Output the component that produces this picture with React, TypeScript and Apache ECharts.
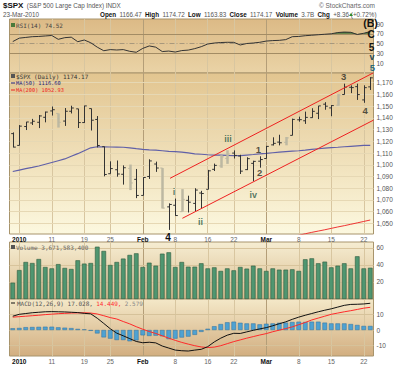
import React, { useEffect, useRef } from 'react';
import * as echarts from 'echarts';

// ---- data ----
const dates = [
  '2009-12-31',
  '2010-01-04','2010-01-05','2010-01-06','2010-01-07','2010-01-08',
  '2010-01-11','2010-01-12','2010-01-13','2010-01-14','2010-01-15',
  '2010-01-19','2010-01-20','2010-01-21','2010-01-22',
  '2010-01-25','2010-01-26','2010-01-27','2010-01-28','2010-01-29',
  '2010-02-01','2010-02-02','2010-02-03','2010-02-04','2010-02-05',
  '2010-02-08','2010-02-09','2010-02-10','2010-02-11','2010-02-12',
  '2010-02-16','2010-02-17','2010-02-18','2010-02-19',
  '2010-02-22','2010-02-23','2010-02-24','2010-02-25','2010-02-26',
  '2010-03-01','2010-03-02','2010-03-03','2010-03-04','2010-03-05',
  '2010-03-08','2010-03-09','2010-03-10','2010-03-11','2010-03-12',
  '2010-03-15','2010-03-16','2010-03-17','2010-03-18','2010-03-19',
  '2010-03-22','2010-03-23',
];
const openP = [1126.6,1116.56,1132.66,1135.71,1136.27,1140.52,1145.96,1143.81,1137.31,1145.68,1147.72,1136.03,1147.95,1138.68,1115.49,1092.4,1095.8,1091.94,1096.93,1087.61,1073.89,1090.05,1100.67,1097.25,1064.12,1065.51,1060.06,1069.68,1067.1,1075.95,1079.13,1096.14,1099.03,1105.49,1110.0,1107.49,1095.89,1101.24,1103.1,1105.36,1117.01,1119.36,1119.12,1125.12,1138.4,1137.56,1140.22,1143.96,1151.71,1148.53,1150.83,1159.94,1166.13,1166.68,1155.35,1166.47];
const highP = [1127.64,1133.87,1136.63,1139.19,1142.46,1145.39,1149.74,1143.81,1148.4,1150.41,1147.77,1150.45,1147.95,1141.58,1115.49,1102.97,1103.69,1099.51,1100.22,1096.45,1089.38,1104.73,1102.72,1097.25,1067.13,1071.2,1079.28,1073.67,1080.04,1077.81,1095.67,1101.03,1108.24,1112.42,1112.29,1108.58,1106.42,1103.5,1107.24,1116.11,1123.46,1125.64,1123.73,1139.38,1141.05,1145.37,1148.26,1150.24,1153.41,1150.98,1160.28,1169.2,1167.77,1169.2,1167.82,1174.72];
const lowP = [1114.81,1116.56,1129.66,1133.95,1131.32,1136.22,1142.02,1131.77,1133.18,1143.8,1131.39,1135.77,1129.25,1114.84,1090.18,1092.4,1089.86,1083.11,1078.46,1071.59,1073.89,1087.96,1093.97,1062.78,1044.5,1056.51,1060.06,1059.34,1060.59,1062.97,1079.13,1094.72,1097.48,1100.8,1105.38,1092.18,1095.5,1086.02,1097.56,1105.36,1116.51,1116.58,1116.66,1125.12,1136.77,1134.9,1140.09,1138.99,1146.97,1141.45,1150.35,1159.94,1161.16,1155.33,1152.88,1163.83];
const closeP = [1115.1,1132.99,1136.52,1137.14,1141.69,1144.98,1146.98,1136.22,1145.68,1148.46,1136.03,1150.23,1138.04,1116.48,1091.76,1096.78,1092.17,1097.5,1084.53,1073.87,1089.19,1103.32,1097.28,1063.11,1066.19,1056.74,1070.52,1068.13,1078.47,1075.51,1094.87,1099.51,1106.75,1109.17,1108.01,1094.6,1105.24,1102.94,1104.49,1115.71,1118.31,1118.79,1122.97,1138.7,1138.5,1140.45,1145.61,1150.24,1149.99,1150.51,1159.46,1166.21,1165.83,1159.9,1165.81,1174.17];
const lightBars = [7, 18, 23, 26, 32, 33, 42, 50];
const ma50 = [1094.3,1095.5,1096.7,1097.8,1099,1100.5,1102,1103.5,1105,1107.3,1109.5,1112,1114.5,1115.4,1115.3,1115.2,1115.1,1115,1114.5,1113.8,1113.2,1112.8,1112.5,1112,1111.5,1111.2,1110.8,1110.2,1109.4,1109,1108.6,1108.3,1108.2,1108,1107.9,1107.8,1108.3,1108.8,1109.4,1109.8,1110.3,1110.8,1111.2,1111.6,1112,1112.5,1113.1,1113.7,1114.3,1114.7,1115,1115.4,1115.8,1116.2,1116.5,1116.6];
const ma200 = [null,null,null,null,null,null,null,null,null,null,null,null,null,null,null,null,null,null,null,null,null,null,null,null,null,null,null,null,null,null,null,null,null,null,null,null,null,null,null,null,null,null,null,1038.6,1039.9,1041.2,1042.4,1043.5,1044.6,1045.8,1047,1048.1,1049.3,1050.5,1051.7,1052.93];
const volume = [19.2,34,43.5,42.3,47,37.6,36,41,36.5,35.3,45.5,41.6,42.3,61.5,56.5,40,43.5,47.5,51.8,53.7,37.6,42.7,39.2,53.3,54.9,37.6,43.5,38,38,42,36,37.2,33,36,33.7,37.6,35.7,39.2,36,33,36,34.5,34.5,34.9,33,46.7,47.8,42,43.9,37.2,39.2,42,36,50.2,36,36.7];
const rsi = [54,61,62.5,64,64.5,65.5,66.5,58.6,62,63,53.7,57.2,51.6,42.5,35.2,37.5,36.7,37.5,34,32,40,45,42.5,33.5,34.5,32.5,35.5,36.5,39.5,43.5,49,51,52,52.5,52.4,47,50,51,52.5,55,56,56.5,58,64,64.5,66,67,68,69,70,72.5,73.5,73,68.5,71,74.52];
const macd = [8.8,10,10.5,11,11.3,11.6,11.7,11.6,11.5,11.3,11.1,10.6,10.3,7.5,4.2,0.8,-2,-3.7,-5.5,-7.3,-8.1,-7.8,-8.2,-10.2,-11.5,-12.8,-13.2,-13.4,-12.8,-12.3,-10.6,-7.6,-5.2,-3.3,-2.1,-2.2,-1.2,-0.2,0.7,1.5,2.7,4,5.2,6.8,8.2,9.4,10.5,11.6,12.6,13.5,14.6,15.7,16.3,16.4,16.6,17.028];
const signal = [8.2,8.5,8.8,9.1,9.4,9.8,10.1,10.4,10.6,10.8,10.9,11,10.8,10.2,9.1,7.9,7,5.4,3.9,2.1,0.5,-1,-2.2,-3.7,-5.2,-6.6,-7.9,-9,-10,-10.8,-11.2,-10.9,-10,-8.7,-7.4,-6.3,-5.2,-4.2,-3.2,-2.3,-1.1,-0.1,0.9,2,3.4,4.8,6.4,7.6,8.8,10,10.8,11.6,12.3,13.1,13.9,14.449];
const hist = [1.1,1.3,1.8,1.9,2,2.1,2.1,1.7,1.5,1.2,0.7,0.4,-0.5,-2.2,-4.7,-5.5,-6.4,-6.4,-7.2,-6.6,-3.4,-3.8,-3.6,-4,-5.8,-5.5,-4.8,-4.2,-3.1,-1.2,0.8,2.4,3.8,4.9,5.3,4.6,4.2,4.2,3.6,4,4.2,4.6,4.7,5.1,5.3,5.1,5.3,5.3,4.7,4.2,4.2,4.2,3.8,3.2,2.6,2.579];

const tickIdx = [1, 6, 11, 15, 20, 25, 30, 34, 39, 44, 49, 54];
const tickLabels = ['2010', '11', '19', '25', 'Feb', '8', '16', '22', 'Mar', '8', '15', '22'];
const boldTicks = ['2010', 'Feb', 'Mar'];
const monthStarts = [20, 39];
const priceTicks = [1050,1060,1070,1080,1090,1100,1110,1120,1130,1140,1150,1160,1170];
const rsiTicks = [10, 30, 50, 70, 90];
const rsiOverbought = 70;
const volTicks = [20, 40, 60];
const macdTicks = [-10, 0, 10];
const channelUpper = [[24.2, 1088.5], [55.5, 1178.5]];
const channelLower = [[26.1, 1054.4], [55.5, 1138.1]];
const waveLabels = [
  { t: 'i', i: 24.8, p: 1077.1, roman: true },
  { t: 'ii', i: 28.9, p: 1051.5, roman: true },
  { t: 'iii', i: 33.1, p: 1122, roman: true },
  { t: 'iv', i: 37, p: 1074.3, roman: true },
  { t: '1', i: 37.8, p: 1113.2, roman: false },
  { t: '2', i: 38, p: 1093.3, roman: false },
  { t: '3', i: 50.9, p: 1175.1, roman: false },
  { t: '4', i: 54.2, p: 1146.1, roman: false },
];

const SANS = '"Liberation Sans", Arial, sans-serif';
const MONO = '"DejaVu Sans Mono", monospace';

function grad(a: string, b: string) {
  return new echarts.graphic.LinearGradient(0, 0, 0, 1, [
    { offset: 0, color: a },
    { offset: 1, color: b },
  ]);
}

function vLines() {
  return tickIdx.map((i) => ({
    xAxis: i,
    lineStyle: { color: monthStarts.includes(i) ? '#b49e78' : '#d8c6a0', width: 1, type: 'solid' },
  }));
}
function hLines(vals: number[], color: string) {
  return vals.map((v) => ({ yAxis: v, lineStyle: { color, width: 1, type: 'solid' } }));
}
function mark(data: any[]) {
  return {
    silent: true,
    symbol: ['none', 'none'],
    label: { show: false },
    animation: false,
    z: 1,
    data,
  };
}

const L = 9.5;
const W = 364;

export default function App() {
  const ref = useRef<HTMLDivElement>(null);
  useEffect(() => {
    if (!ref.current) return;
    const chart = echarts.init(ref.current, undefined, { renderer: 'svg' });
    const xIdx = dates.map((_, i) => i);

    const xAxisBase = (gi: number, showLabels: boolean) => ({
      type: 'value',
      gridIndex: gi,
      min: -0.5,
      max: dates.length - 0.5,
      axisLine: { show: false },
      axisTick: { show: false },
      splitLine: { show: false },
      axisLabel: {
        show: showLabels,
        customValues: tickIdx,
        margin: 2,
        fontSize: 6,
        fontFamily: SANS,
        formatter: (v: number) => {
          const k = tickIdx.indexOf(Math.round(v));
          if (k < 0) return '';
          const s = tickLabels[k];
          return boldTicks.includes(s) ? `{b|${s}}` : `{n|${s}}`;
        },
        rich: {
          b: { fontWeight: 'bold', color: '#111', fontSize: 6.5, fontFamily: SANS },
          n: { color: '#666', fontSize: 6.5, fontFamily: SANS },
        },
      },
    });
    const yAxisBase = (gi: number, min: number, max: number, ticks: number[]) => ({
      type: 'value',
      gridIndex: gi,
      position: 'right',
      min,
      max,
      axisLine: { show: false },
      axisTick: { show: false },
      splitLine: { show: false },
      axisLabel: { customValues: ticks, margin: 3, fontSize: 6.5, color: '#555', fontFamily: SANS },
    });

    const gridBase = { show: true, borderColor: '#a8946c', borderWidth: 1, containLabel: false, outerBoundsMode: 'none' };

    const option: any = {
      animation: false,
      backgroundColor: '#ffffff',
      grid: [
        { ...gridBase, left: L, width: W, top: 19, height: 54, backgroundColor: grad('#dcba86', '#ead3a6') },
        { ...gridBase, left: L, width: W, top: 73, height: 161, backgroundColor: grad('#e2c590', '#fcf8df') },
        { ...gridBase, left: L, width: W, top: 242, height: 57, backgroundColor: grad('#f6edd2', '#d9bc8e') },
        { ...gridBase, left: L, width: W, top: 299, height: 57, backgroundColor: grad('#f4e8c8', '#d2ae80') },
      ],
      xAxis: [xAxisBase(0, false), xAxisBase(1, true), xAxisBase(2, false), xAxisBase(3, true)],
      yAxis: [
        yAxisBase(0, -10.5, 100.3, rsiTicks),
        yAxisBase(1, 1041, 1178.3, priceTicks),
        yAxisBase(2, 0, 67, volTicks),
        yAxisBase(3, -16.56, 19.75, macdTicks),
      ],
      series: [
        // RSI: overbought fill between 70 and the RSI line
        {
          type: 'line', xAxisIndex: 0, yAxisIndex: 0, z: 3,
          data: rsi.map((v, i) => [i, Math.max(v, rsiOverbought)]), symbol: 'none',
          lineStyle: { opacity: 0 },
          areaStyle: { color: '#3c7236', opacity: 1, origin: rsiOverbought },
          markLine: mark([
            ...vLines(),
            { yAxis: 70, lineStyle: { color: '#a38c64', width: 1, type: 'solid' } },
            { yAxis: 30, lineStyle: { color: '#a38c64', width: 1, type: 'solid' } },
            { yAxis: 50, lineStyle: { color: '#a8987c', width: 1, type: [5, 2, 1, 2] } },
          ]),
        },
        {
          type: 'line', xAxisIndex: 0, yAxisIndex: 0, z: 4,
          data: rsi.map((v, i) => [i, v]), symbol: 'none',
          lineStyle: { color: '#333', width: 1 },
        },
        // Price
        {
          type: 'line', xAxisIndex: 1, yAxisIndex: 1, z: 3,
          data: ma50.map((v, i) => [i, v]), symbol: 'none',
          lineStyle: { color: '#6060a8', width: 1.2 },
          markLine: mark([...vLines(), ...hLines(priceTicks, '#e6d8b4')]),
        },
        {
          type: 'line', xAxisIndex: 1, yAxisIndex: 1, z: 3,
          data: ma200.map((v, i) => [i, v]), symbol: 'none', clip: true,
          lineStyle: { color: '#ee3333', width: 1 },
        },
        {
          type: 'custom', xAxisIndex: 1, yAxisIndex: 1, z: 4, clip: true,
          data: xIdx.map((i) => [i, openP[i], closeP[i], lowP[i], highP[i], lightBars.includes(i) ? 1 : 0]),
          encode: { x: 0, y: [1, 2, 3, 4] },
          renderItem: (params: any, api: any) => {
            const i = api.value(0);
            const top = api.coord([i, api.value(4)]);
            const bot = api.coord([i, api.value(3)]);
            const po = api.coord([i, api.value(1)]);
            const pc = api.coord([i, api.value(2)]);
            const light = api.value(5) === 1;
            const x = Math.round(top[0]) + 0.5;
            const col = light ? '#bdb8a2' : '#333333';
            return {
              type: 'group',
              children: [
                { type: 'line', shape: { x1: x, y1: top[1], x2: x, y2: bot[1] }, style: { stroke: col, lineWidth: light ? 2.5 : 1 } },
                { type: 'line', shape: { x1: x - 2.3, y1: po[1], x2: x, y2: po[1] }, style: { stroke: col, lineWidth: 1 } },
                { type: 'line', shape: { x1: x, y1: pc[1], x2: x + 2.3, y2: pc[1] }, style: { stroke: col, lineWidth: 1 } },
              ],
            };
          },
        },
        {
          type: 'line', xAxisIndex: 1, yAxisIndex: 1, z: 5, clip: true,
          data: channelUpper, symbol: 'none',
          lineStyle: { color: '#ee2020', width: 1 },
        },
        {
          type: 'line', xAxisIndex: 1, yAxisIndex: 1, z: 5, clip: true,
          data: channelLower, symbol: 'none',
          lineStyle: { color: '#ee2020', width: 1 },
        },
        {
          type: 'scatter', xAxisIndex: 1, yAxisIndex: 1, z: 6, clip: false,
          symbolSize: 0,
          data: waveLabels.map((w) => ({
            value: [w.i, w.p],
            label: {
              show: true, position: 'inside', formatter: w.t,
              fontSize: w.roman ? 9 : 9.5, fontWeight: 'bold', fontFamily: SANS,
              color: w.roman ? '#2f5a48' : '#2a2a22',
            },
          })),
        },
        // Volume
        {
          type: 'bar', xAxisIndex: 2, yAxisIndex: 2, z: 3,
          data: volume.map((v, i) => [i, v]), barWidth: 4.6,
          itemStyle: { color: '#4f9670', borderColor: '#2d5a3e', borderWidth: 0.6 },
          markLine: mark([...vLines(), ...hLines(volTicks, '#d8c49c')]),
        },
        // MACD
        {
          type: 'bar', xAxisIndex: 3, yAxisIndex: 3, z: 3,
          data: hist.map((v, i) => [i, v]), barWidth: 4.6,
          itemStyle: { color: '#4ea2d2', borderColor: '#2e6e9e', borderWidth: 0.5 },
          markLine: mark([...vLines(), ...hLines(macdTicks, '#d6c29a')]),
        },
        {
          type: 'line', xAxisIndex: 3, yAxisIndex: 3, z: 4,
          data: signal.map((v, i) => [i, v]), symbol: 'none',
          lineStyle: { color: '#ff2a2a', width: 1 },
        },
        {
          type: 'line', xAxisIndex: 3, yAxisIndex: 3, z: 5,
          data: macd.map((v, i) => [i, v]), symbol: 'none',
          lineStyle: { color: '#111', width: 1 },
        },
      ],
      graphic: [
        {
          type: 'text', x: 3, y: 5, z: 10,
          style: {
            text: '{b|$SPX} {n|(S&P 500 Large Cap Index) INDX}',
            verticalAlign: 'middle',
            rich: {
              b: { fontWeight: 'bold', fontSize: 8, fontFamily: SANS, fill: '#111' },
              n: { fontSize: 6.3, fontFamily: SANS, fill: '#555' },
            },
          },
        },
        {
          type: 'text', x: 375, y: 5, z: 10,
          style: { text: '© StockCharts.com', align: 'right', verticalAlign: 'middle', fontSize: 6.5, fontFamily: SANS, fill: '#666' },
        },
        {
          type: 'text', x: 3, y: 14, z: 10,
          style: { text: '23-Mar-2010', verticalAlign: 'middle', fontSize: 6.3, fontFamily: SANS, fill: '#555' },
        },
        {
          type: 'text', x: 100, y: 14, z: 10,
          style: {
            text: '{b|Open} {n|1166.47} {b|High} {n|1174.72} {b|Low} {n|1163.83} {b|Close} {n|1174.17} {b|Volume} {n|3.7B} {b|Chg} {n|+8.36 (+0.72%)}',
            verticalAlign: 'middle',
            rich: {
              b: { fontWeight: 'bold', fontSize: 6.3, fontFamily: SANS, fill: '#111' },
              n: { fontSize: 6.3, fontFamily: SANS, fill: '#555' },
            },
          },
        },
        { type: 'polygon', z: 10, shape: { points: [[349, 16], [353, 16], [351, 13]] }, style: { fill: '#2e8a2e' } },
        // panel legends
        { type: 'rect', z: 10, shape: { x: 11, y: 23, width: 4, height: 4 }, style: { fill: '#4a7a3a' } },
        { type: 'text', x: 16, y: 25, z: 10, style: { text: 'RSI(14) 74.52', verticalAlign: 'middle', fontSize: 6, fontFamily: MONO, fill: '#444' } },
        { type: 'rect', z: 10, shape: { x: 11, y: 74, width: 4, height: 4 }, style: { fill: '#555' } },
        { type: 'text', x: 16, y: 76, z: 10, style: { text: '$SPX (Daily) 1174.17', verticalAlign: 'middle', fontSize: 6, fontFamily: MONO, fill: '#333' } },
        { type: 'line', z: 10, shape: { x1: 11, y1: 83, x2: 15, y2: 83 }, style: { stroke: '#22227a', lineWidth: 1 } },
        { type: 'text', x: 16, y: 83, z: 10, style: { text: 'MA(50) 1116.60', verticalAlign: 'middle', fontSize: 5.3, fontFamily: MONO, fill: '#22227a' } },
        { type: 'line', z: 10, shape: { x1: 11, y1: 90, x2: 15, y2: 90 }, style: { stroke: '#ee2222', lineWidth: 1 } },
        { type: 'text', x: 16, y: 90, z: 10, style: { text: 'MA(200) 1052.93', verticalAlign: 'middle', fontSize: 5.3, fontFamily: MONO, fill: '#ee2222' } },
        { type: 'rect', z: 10, shape: { x: 11, y: 245, width: 4, height: 4 }, style: { fill: '#555' } },
        { type: 'text', x: 16, y: 247, z: 10, style: { text: 'Volume 3,671,583,400', verticalAlign: 'middle', fontSize: 6, fontFamily: MONO, fill: '#666' } },
        { type: 'line', z: 10, shape: { x1: 11, y1: 303, x2: 15, y2: 303 }, style: { stroke: '#111', lineWidth: 1 } },
        {
          type: 'text', x: 17, y: 303, z: 10,
          style: {
            text: '{k|MACD(12,26,9) 17.028,} {r|14.449,} {g|2.579}',
            verticalAlign: 'middle',
            rich: {
              k: { fontSize: 6, fontFamily: MONO, fill: '#555' },
              r: { fontSize: 6, fontFamily: MONO, fill: '#ff3030' },
              g: { fontSize: 6, fontFamily: MONO, fill: '#888' },
            },
          },
        },
        // wave annotations outside the price panel
        { type: 'text', x: 168, y: 237, z: 10, style: { text: '4', align: 'center', verticalAlign: 'middle', fontSize: 10, fontWeight: 'bold', fontFamily: SANS, fill: '#111' } },
        { type: 'text', x: 370.5, y: 23, z: 10, style: { text: '(B)', align: 'center', verticalAlign: 'middle', fontSize: 10.5, fontWeight: 'bold', fontFamily: SANS, fill: '#111' } },
        { type: 'text', x: 371, y: 34.5, z: 10, style: { text: 'C', align: 'center', verticalAlign: 'middle', fontSize: 10, fontWeight: 'bold', fontFamily: SANS, fill: '#111' } },
        { type: 'text', x: 371.5, y: 47, z: 10, style: { text: '5', align: 'center', verticalAlign: 'middle', fontSize: 10, fontWeight: 'bold', fontFamily: SANS, fill: '#111' } },
        { type: 'text', x: 372, y: 57, z: 10, style: { text: 'v', align: 'center', verticalAlign: 'middle', fontSize: 9, fontWeight: 'bold', fontFamily: SANS, fill: '#1f4a5a' } },
        { type: 'text', x: 372.5, y: 67, z: 10, style: { text: '5', align: 'center', verticalAlign: 'middle', fontSize: 9.5, fontWeight: 'bold', fontFamily: SANS, fill: '#2a6a7a' } },
      ],
    };
    chart.setOption(option);
    return () => chart.dispose();
  }, []);
  return (
    <div style={{ position: 'fixed', left: 0, top: 0, width: 400, height: 365, background: '#fff' }}>
      <div ref={ref} style={{ width: 400, height: 365 }} />
    </div>
  );
}
